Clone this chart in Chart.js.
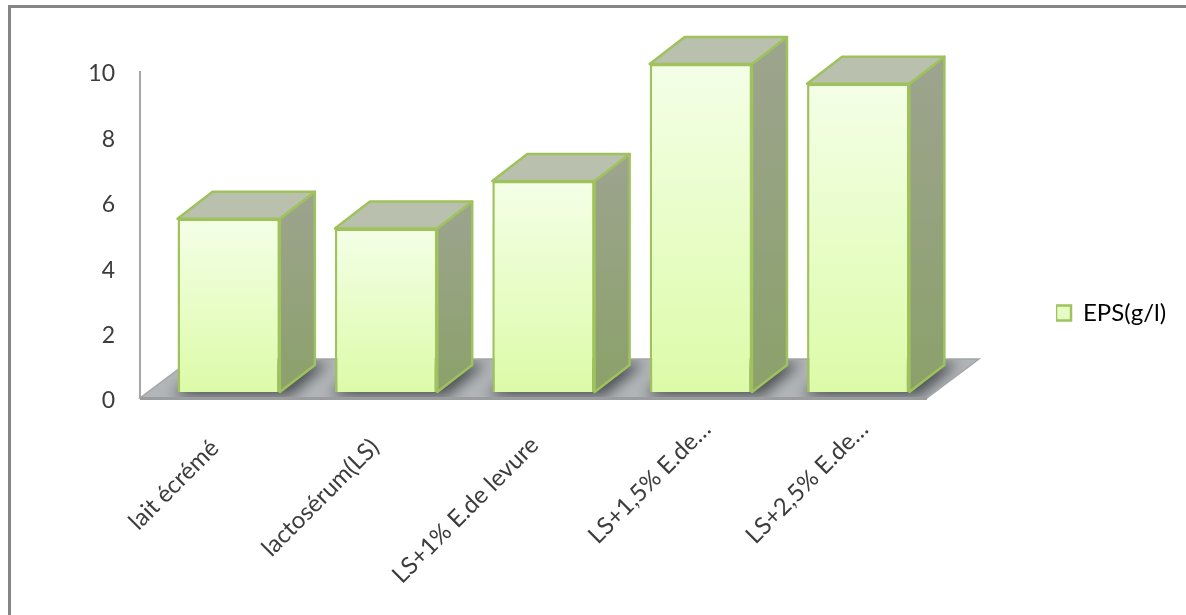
<!DOCTYPE html>
<html>
<head>
<meta charset="utf-8">
<title>EPS(g/l)</title>
<script src="https://cdn.jsdelivr.net/npm/chart.js@4/dist/chart.umd.min.js"></script>
<style>
    html, body { margin: 0; padding: 0; background: #fff; overflow: hidden; }
    #wrap { position: relative; width: 1186px; height: 615px; }
    #frame { position: absolute; left: 8px; top: 5px; right: 0; bottom: 0; border-left: 3px solid #858585; border-top: 3px solid #858585; }
    canvas { position: absolute; left: 0; top: 0; }
</style>
</head>
<body>
<div id="wrap">
    <div id="frame"></div>
    <canvas id="barChart" width="1186" height="615"></canvas>
</div>
<script>
    'use strict'

    var categories = ['lait écrémé', 'lactosérum(LS)', 'LS+1% E.de levure', 'LS+1,5% E.de…', 'LS+2,5% E.de…']
    var epsValues = [5.3, 5.0, 6.45, 10.03, 9.43]
    var seriesName = 'EPS(g/l)'
    var yMin = 0
    var yMax = 10
    var yStep = 2

    // fake perspective: how far the box faces and the floor run to the back
    var DEPTH_X = 35
    var DEPTH_Y = -27
    // the wall and floor sit a little above the tick positions
    var WALL_Y = -3
    // front of the bars stands slightly inside the floor
    var FRONT_X = 10
    var FRONT_Y = -9
    var FLOOR_BACK_X = 52
    var FLOOR_BACK_Y = -39

    // the shortened labels sit closer to the axis than the full ones
    var LABEL_SHIFT_X = [-4, -1, 1, 16, 16]
    var LABEL_SHIFT_Y = [3, 2, 0, -16, -16]

    var LABEL_COLOR = '#3c3c3c'
    var EDGE_GREEN = '#9fc25c'

    function frontGradient(c, top, bottom) {
        var g = c.createLinearGradient(0, top, 0, bottom)
        g.addColorStop(0, '#f4ffe7')
        g.addColorStop(1, '#dcfba8')
        return g
    }

    function sideGradient(c, top, bottom) {
        var g = c.createLinearGradient(0, top, 0, bottom)
        g.addColorStop(0, '#9da48f')
        g.addColorStop(1, '#8ba16a')
        return g
    }

    function polygon(c, pts) {
        c.beginPath()
        c.moveTo(pts[0][0], pts[0][1])
        for (var i = 1; i < pts.length; i++) c.lineTo(pts[i][0], pts[i][1])
        c.closePath()
    }

    // wall line, floor and the soft shadows under the bars
    function drawFloor(chart) {
        var c = chart.ctx
        var area = chart.chartArea
        var yScale = chart.scales.y
        var y0 = yScale.getPixelForValue(yMin) + WALL_Y
        var left = area.left
        var right = area.right
        var floor = [
            [left, y0],
            [right, y0],
            [right + FLOOR_BACK_X, y0 + FLOOR_BACK_Y],
            [left + FLOOR_BACK_X, y0 + FLOOR_BACK_Y]
        ]

        c.save()
        c.strokeStyle = '#a6a6a6'
        c.lineWidth = 2
        c.beginPath()
        c.moveTo(left, yScale.getPixelForValue(yMax) + WALL_Y)
        c.lineTo(left, y0)
        c.stroke()
        c.restore()

        c.save()
        polygon(c, floor)
        c.fillStyle = '#b2b6b9'
        c.fill()
        c.clip()
        c.filter = 'blur(7px)'
        c.fillStyle = '#4a4e50'
        chart.getDatasetMeta(0).data.forEach(function (bar) {
            var x0 = bar.x - bar.width / 2 + FRONT_X
            var x1 = bar.x + bar.width / 2 + FRONT_X
            var b = bar.base + FRONT_Y
            polygon(c, [[x0 - 6, b + 4], [x1 + 10, b + 4], [x1 + DEPTH_X + 14, b + DEPTH_Y - 2], [x0 + DEPTH_X, b + DEPTH_Y - 2]])
            c.fill()
        })
        c.restore()

        c.save()
        c.strokeStyle = '#a3a5a6'
        c.lineWidth = 1.5
        polygon(c, floor)
        c.stroke()
        c.strokeStyle = '#9a9c9d'
        c.lineWidth = 3
        c.beginPath()
        c.moveTo(left, y0 + 0.5)
        c.lineTo(right, y0 + 0.5)
        c.stroke()
        c.restore()
    }

    // top and right faces of one bar, in the shifted bar coordinates
    function drawBoxFaces(c, bar) {
        var x1 = bar.x + bar.width / 2
        var x0 = bar.x - bar.width / 2
        var top = bar.y
        var base = bar.base

        polygon(c, [[x1, top], [x1 + DEPTH_X, top + DEPTH_Y], [x1 + DEPTH_X, base + DEPTH_Y], [x1, base]])
        c.fillStyle = sideGradient(c, top + DEPTH_Y, base)
        c.fill()
        c.stroke()

        polygon(c, [[x0, top], [x0 + DEPTH_X, top + DEPTH_Y], [x1 + DEPTH_X, top + DEPTH_Y], [x1, top]])
        c.fillStyle = '#b9c1ae'
        c.fill()
        c.stroke()
    }

    var boxPlugin = {
        id: 'box3d',
        beforeDatasetsDraw: function (chart) {
            drawFloor(chart)
            chart.ctx.save()
            chart.ctx.translate(FRONT_X, FRONT_Y)
        },
        afterDatasetsDraw: function (chart) {
            var c = chart.ctx
            c.strokeStyle = EDGE_GREEN
            c.lineWidth = 2.5
            c.lineJoin = 'round'
            chart.getDatasetMeta(0).data.forEach(function (bar) {
                drawBoxFaces(c, bar)
            })
            c.restore()
        }
    }

    // legend sits well right of the plot, not next to it
    var placementPlugin = {
        id: 'placement',
        afterLayout: function (chart) {
            var l = chart.legend
            var w = l.right - l.left
            var h = l.bottom - l.top
            l.left = 1056
            l.right = 1056 + w
            l.top = 313 - h / 2
            l.bottom = 313 + h / 2

            chart.scales.x.getLabelItems().forEach(function (item, i) {
                item.options.translation[0] += LABEL_SHIFT_X[i]
                item.options.translation[1] += LABEL_SHIFT_Y[i]
            })
        }
    }

    var canvas = document.getElementById('barChart')

    new Chart(canvas.getContext('2d'), {
        type: 'bar',
        data: {
            labels: categories,
            datasets: [{
                label: seriesName,
                data: epsValues,
                backgroundColor: function (ctx) {
                    var chart = ctx.chart
                    if (!chart.chartArea) return '#e8fcc8'
                    var y = chart.scales.y
                    return frontGradient(chart.ctx, y.getPixelForValue(epsValues[ctx.dataIndex]), y.getPixelForValue(0))
                },
                borderColor: EDGE_GREEN,
                borderWidth: 2.5,
                barPercentage: 0.65,
                categoryPercentage: 1,
                clip: false
            }]
        },
        options: {
            responsive: false,
            animation: false,
            layout: {
                padding: { left: 0, top: 74, right: 139, bottom: 0 }
            },
            plugins: {
                tooltip: { enabled: false },
                legend: {
                    position: 'right',
                    labels: {
                        color: LABEL_COLOR,
                        font: { family: 'Lato', size: 24 },
                        boxWidth: 15,
                        boxHeight: 15,
                        padding: 0,
                        generateLabels: function () {
                            return [{ text: seriesName, fillStyle: '#e6fcc4', strokeStyle: EDGE_GREEN, lineWidth: 2.5, datasetIndex: 0 }]
                        }
                    }
                }
            },
            scales: {
                x: {
                    grid: { display: false, drawTicks: false },
                    border: { display: false },
                    afterFit: function (scale) { scale.height = 214 },
                    ticks: {
                        color: LABEL_COLOR,
                        font: { family: 'Lato', size: 24 },
                        minRotation: 45,
                        maxRotation: 45,
                        autoSkip: false,
                        padding: 30
                    }
                },
                y: {
                    min: yMin,
                    max: yMax,
                    grid: { display: false, drawTicks: false },
                    border: { display: false },
                    afterFit: function (scale) { scale.width = 140 },
                    ticks: {
                        stepSize: yStep,
                        color: LABEL_COLOR,
                        font: { family: 'Lato', size: 23 },
                        padding: 25
                    }
                }
            }
        },
        plugins: [boxPlugin, placementPlugin]
    })
</script>
</body>
</html>
